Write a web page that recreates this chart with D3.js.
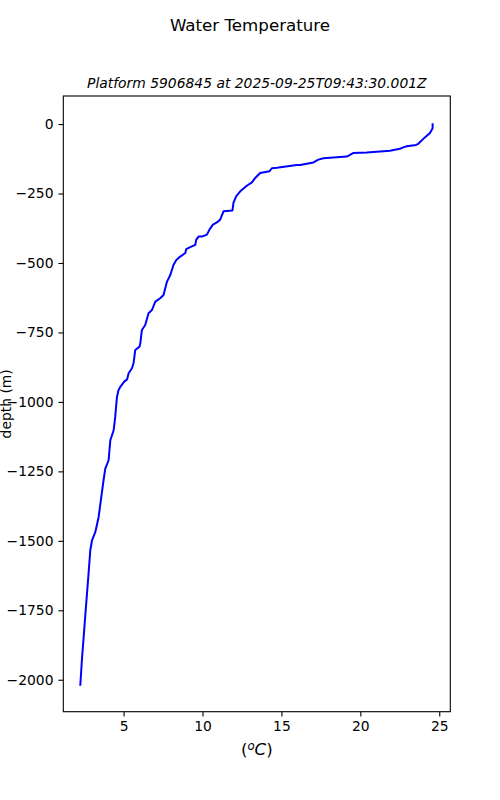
<!DOCTYPE html>
<html>
<head>
<meta charset="utf-8">
<script src="https://cdn.jsdelivr.net/npm/d3@7"></script>
<style>
  body { margin: 0; background: #fff; }
  svg text { font-family: "DejaVu Sans", sans-serif; fill: #000; }
</style>
</head>
<body>
<svg id="chart" width="500" height="800"></svg>
<script>
// profile: temperature (degC) vs depth (m)
const temperature = [24.58, 24.58, 24.41, 24.09, 23.67, 23.53, 22.94, 22.72, 22.51, 21.88,
  20.41, 19.56, 19.35, 19.14, 17.66, 17.34, 17.03, 16.18, 15.97, 14.71,
  14.39, 14.24, 13.65, 13.34, 13.13, 12.81, 12.39, 12.13, 11.96, 11.90,
  11.33, 11.12, 10.91, 10.66, 10.44, 10.28, 9.96, 9.75, 9.60, 9.54,
  9.22, 8.97, 8.91, 8.59, 8.34, 8.16, 7.96, 7.75, 7.53, 7.32,
  7.01, 6.80, 6.58, 6.37, 6.16, 6.06, 6.01, 5.74, 5.63, 5.53,
  5.32, 5.22, 5.04, 4.79, 4.68, 4.58, 4.47, 4.37, 4.16, 4.05,
  3.84, 3.73, 3.53, 3.42, 3.21, 3.00, 2.89, 2.78, 2.68, 2.58,
  2.47, 2.37, 2.26]
const depth = [-1, -15, -32, -48, -71, -75, -80, -84, -89, -96,
  -102, -104, -111, -117, -123, -128, -138, -147, -147, -157,
  -159, -170, -176, -194, -210, -222, -242, -260, -284, -311,
  -314, -344, -354, -362, -380, -398, -405, -405, -417, -435,
  -443, -450, -464, -477, -489, -507, -543, -567, -615, -627,
  -639, -669, -681, -723, -741, -789, -801, -813, -861, -879,
  -897, -919, -927, -946, -957, -982, -1054, -1102, -1138, -1210,
  -1240, -1282, -1366, -1414, -1468, -1498, -1534, -1618, -1691, -1763,
  -1847, -1919, -2018]
const xTicks = [5, 10, 15, 20, 25]
const yTicks = [-2000, -1750, -1500, -1250, -1000, -750, -500, -250, 0]

const svg = d3.select("#chart")
const plotLeft = 63.3, plotRight = 450.3, plotTop = 96, plotBottom = 711.7

const x = d3.scaleLinear().domain([1.18, 25.7]).range([plotLeft, plotRight])
const y = d3.scaleLinear().domain([-2115, 101]).range([plotBottom, plotTop])

// suptitle + axes title
svg.append("text")
  .attr("x", 250).attr("y", 31)
  .attr("text-anchor", "middle")
  .style("font-size", "16.67px")
  .text("Water Temperature")

svg.append("text")
  .attr("x", (plotLeft + plotRight) / 2).attr("y", 87.5)
  .attr("text-anchor", "middle")
  .style("font-size", "13.89px")
  .style("font-style", "italic")
  .text("Platform 5906845 at 2025-09-25T09:43:30.001Z")

const fmt = d3.format("d")

const xAxis = svg.append("g")
  .attr("transform", `translate(0,${plotBottom})`)
  .call(d3.axisBottom(x).tickValues(xTicks).tickSize(4.9).tickPadding(4.9).tickFormat(fmt))
const yAxis = svg.append("g")
  .attr("transform", `translate(${plotLeft},0)`)
  .call(d3.axisLeft(y).tickValues(yTicks).tickSize(4.9).tickPadding(4.9).tickFormat(fmt))

for (const ax of [xAxis, yAxis]) {
  ax.select(".domain").remove()
  ax.selectAll("line").attr("stroke", "#000").attr("stroke-width", 1.1)
  ax.selectAll("text")
    .style("font-family", "DejaVu Sans, sans-serif")
    .style("font-size", "13.89px")
    .attr("fill", "#000")
}

// the profile
const line = d3.line()
  .x((d, i) => x(temperature[i]))
  .y(d => y(d))

svg.append("path")
  .datum(depth)
  .attr("d", line)
  .attr("fill", "none")
  .attr("stroke", "#0000ff")
  .attr("stroke-width", 2)
  .attr("stroke-linejoin", "round")
  .attr("stroke-linecap", "square")

// frame (all four spines)
svg.append("rect")
  .attr("x", plotLeft).attr("y", plotTop)
  .attr("width", plotRight - plotLeft).attr("height", plotBottom - plotTop)
  .attr("fill", "none")
  .attr("stroke", "#000")
  .attr("stroke-width", 1.1)

// axis labels
const xl = svg.append("text")
  .attr("x", (plotLeft + plotRight) / 2).attr("y", 755)
  .attr("text-anchor", "middle")
  .style("font-size", "16.67px")
xl.append("tspan").text("(")
xl.append("tspan").attr("baseline-shift", "40%").style("font-size", "11.7px").style("font-style", "italic").text("o")
xl.append("tspan").style("font-style", "italic").text("C")
xl.append("tspan").text(")")

svg.append("text")
  .attr("transform", `translate(10.5,${(plotTop + plotBottom) / 2}) rotate(-90)`)
  .attr("text-anchor", "middle")
  .style("font-size", "13.89px")
  .text("depth (m)")
</script>
</body>
</html>
